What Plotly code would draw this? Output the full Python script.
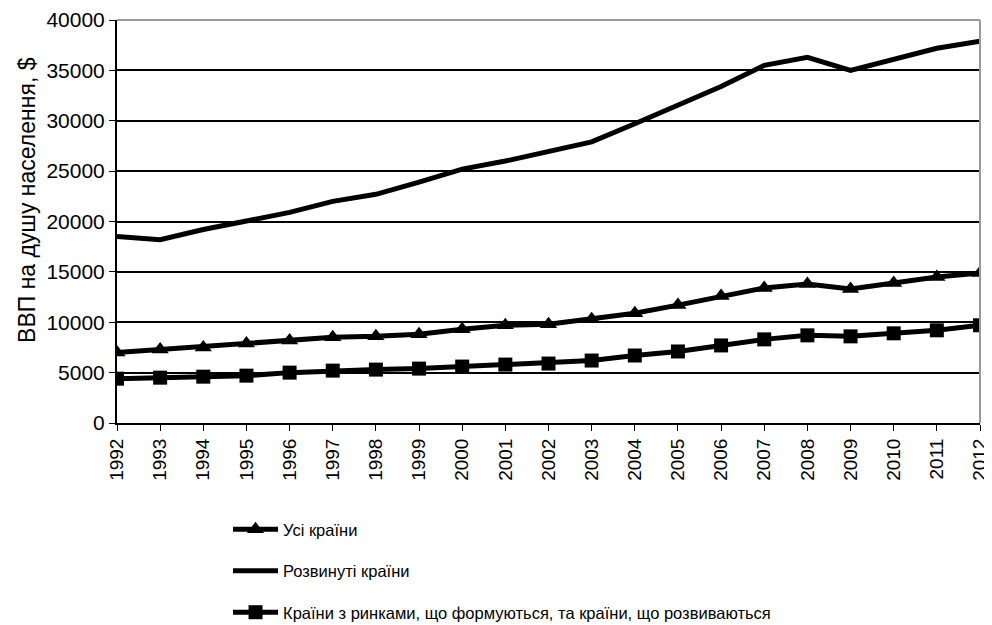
import plotly.graph_objects as go

years = [str(y) for y in range(1992, 2013)]
all_countries = [7000, 7300, 7500, 7900, 8200, 8500, 8600, 8800, 9300, 9700, 9800,
                 10300, 10900, 11700, 12600, 13400, 13800, 13300, 13900, 14500, 14900]
developed = [18500, 18200, 19200, 20100, 20900, 22000, 22700, 23900, 25200, 26000, 27000,
             27900, 29700, 31500, 33400, 35500, 36300, 35000, 36100, 37200, 37900]
emerging = [4400, 4500, 4600, 4700, 5000, 5200, 5300, 5400, 5600, 5800, 5900,
            6200, 6700, 7100, 7700, 8300, 8700, 8600, 8900, 9200, 9700]
names = ["Усі країни", "Розвинуті країни", "Країни з ринками, що формуються, та країни, що розвиваються"]
y_title = "ВВП на душу населення, $"
y_ticks = list(range(0, 40001, 5000))

fig = go.Figure()
fig.add_trace(go.Scatter(x=years, y=all_countries, name=names[0], mode="lines+markers",
                         line=dict(color="black", width=5),
                         marker=dict(symbol="triangle-up", size=15, color="black"),
                         legendgroup="a"))
fig.add_trace(go.Scatter(x=years, y=developed, name=names[1], mode="lines",
                         line=dict(color="black", width=5), legendgroup="b"))
fig.add_trace(go.Scatter(x=years, y=emerging, name=names[2], mode="lines+markers",
                         line=dict(color="black", width=5),
                         marker=dict(symbol="square", size=14, color="black"),
                         legendgroup="c"))

# page has an 8px body margin; figure is sized to fill the rest
fig.update_layout(
    width=984, height=617,
    margin=dict(l=109, r=12, t=12, b=202, autoexpand=False),
    paper_bgcolor="white", plot_bgcolor="white",
    font=dict(family="Liberation Sans, Arial, sans-serif", size=20, color="black"),
    showlegend=True,
    legend=dict(orientation="v", xref="container", yref="container",
                x=0.2236, y=0.183, xanchor="left", yanchor="top", itemwidth=45,
                tracegroupgap=17, font=dict(size=16.5), bgcolor="rgba(0,0,0,0)"),
    xaxis=dict(type="category", tickangle=-90, showline=True, linecolor="black", linewidth=2,
               ticks="outside", ticklen=6, tickcolor="black", showgrid=False, mirror=False,
               range=[0, 20], dtick=1, tickfont=dict(size=19)),
    yaxis=dict(range=[0, 40000], tickvals=y_ticks, ticktext=[str(v) for v in y_ticks],
               showline=True, linecolor="black", linewidth=2,
               ticks="outside", ticklen=6, tickcolor="black", gridcolor="black", gridwidth=1.5,
               zeroline=False, tickfont=dict(size=21)),
)
fig.add_annotation(text=y_title, xref="paper", yref="paper", x=-0.1045, y=0.553,
                   textangle=-90, showarrow=False, font=dict(size=23),
                   xanchor="center", yanchor="middle")
# grey frame on top and right
fig.add_shape(type="line", xref="paper", yref="paper", x0=0, x1=1, y0=1, y1=1,
              line=dict(color="#999999", width=2))
fig.add_shape(type="line", xref="paper", yref="paper", x0=1, x1=1, y0=0, y1=1,
              line=dict(color="#999999", width=2))

fig.write_html("out.html")
